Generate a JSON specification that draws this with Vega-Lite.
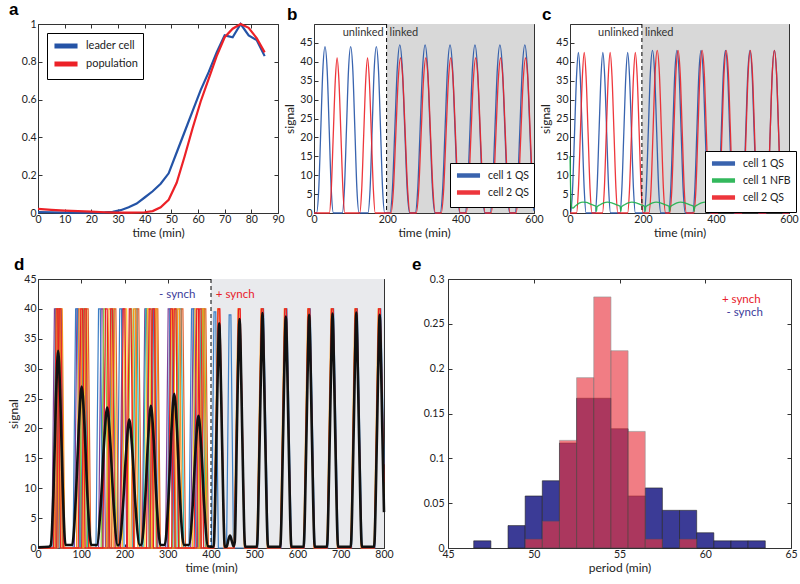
{
"$schema":"https://vega.github.io/schema/vega-lite/v6.json",
"autosize":{"type":"pad"},
"padding":{"left":7,"top":0,"right":0,"bottom":0},
"background":"white",
"config":{
 "view":{"stroke":"#333","strokeWidth":1},
 "font":"Lato",
 "scale":{"continuousPadding":0},
 "axis":{"domain":false,"grid":false,"tickSize":-4,"tickColor":"#333","labelFont":"Lato","labelFontSize":10.5,"labelColor":"#222","titleFont":"Lato","titleFontSize":12,"titleFontWeight":"normal","titleColor":"#222","labelFlush":false,"labelOverlap":false,"titlePadding":3},
 "axisX":{"labelPadding":5},
 "axisY":{"labelPadding":4},
 "legend":{"title":null,"strokeColor":"black","fillColor":"white","padding":5,"symbolType":"M-2.2,0H2.2","symbolSize":110,"symbolOffset":6,"symbolStrokeWidth":4.5,"labelFont":"Lato","labelFontSize":10.5,"labelColor":"#222","rowPadding":-5,"labelOffset":12,"cornerRadius":0},
 "title":{"font":"Liberation Sans","fontSize":17,"fontWeight":"bold","anchor":"start","frame":"group","color":"black"}
},
"datasets":{
"a":[
{"s":"leader cell","t":0,"v":0.005},{"s":"leader cell","t":5,"v":0.004},{"s":"leader cell","t":10,"v":0.002},{"s":"leader cell","t":15,"v":0.002},{"s":"leader cell","t":20,"v":0.002},{"s":"leader cell","t":25,"v":0.003},{"s":"leader cell","t":28,"v":0.006},{"s":"leader cell","t":31,"v":0.015},{"s":"leader cell","t":34,"v":0.03},{"s":"leader cell","t":37,"v":0.05},{"s":"leader cell","t":40,"v":0.082},{"s":"leader cell","t":43,"v":0.115},{"s":"leader cell","t":46,"v":0.155},{"s":"leader cell","t":49,"v":0.21},{"s":"leader cell","t":52,"v":0.32},{"s":"leader cell","t":55,"v":0.43},{"s":"leader cell","t":58,"v":0.54},{"s":"leader cell","t":61,"v":0.65},{"s":"leader cell","t":64,"v":0.745},{"s":"leader cell","t":67,"v":0.85},{"s":"leader cell","t":70,"v":0.94},{"s":"leader cell","t":73,"v":0.93},{"s":"leader cell","t":76,"v":1.0},{"s":"leader cell","t":79,"v":0.94},{"s":"leader cell","t":82,"v":0.915},{"s":"leader cell","t":85,"v":0.83},
{"s":"population","t":0,"v":0.022},{"s":"population","t":5,"v":0.017},{"s":"population","t":10,"v":0.013},{"s":"population","t":15,"v":0.01},{"s":"population","t":20,"v":0.007},{"s":"population","t":25,"v":0.004},{"s":"population","t":30,"v":0.002},{"s":"population","t":35,"v":0.002},{"s":"population","t":40,"v":0.004},{"s":"population","t":43,"v":0.01},{"s":"population","t":46,"v":0.03},{"s":"population","t":49,"v":0.07},{"s":"population","t":52,"v":0.16},{"s":"population","t":55,"v":0.3},{"s":"population","t":58,"v":0.45},{"s":"population","t":61,"v":0.59},{"s":"population","t":64,"v":0.71},{"s":"population","t":67,"v":0.83},{"s":"population","t":70,"v":0.93},{"s":"population","t":73,"v":0.975},{"s":"population","t":76,"v":1.0},{"s":"population","t":79,"v":0.98},{"s":"population","t":82,"v":0.925},{"s":"population","t":85,"v":0.85}
],
"b":[
{"s":"cell 1 QS","t":0,"v":0},{"s":"cell 1 QS","t":7,"v":0},{"s":"cell 1 QS","t":13,"v":6.4},{"s":"cell 1 QS","t":18.5,"v":22},{"s":"cell 1 QS","t":24,"v":37.6},{"s":"cell 1 QS","t":30,"v":44},{"s":"cell 1 QS","t":36,"v":37.6},{"s":"cell 1 QS","t":41.5,"v":22},{"s":"cell 1 QS","t":47,"v":6.4},{"s":"cell 1 QS","t":53,"v":0},
{"s":"cell 1 QS","t":77,"v":0},{"s":"cell 1 QS","t":83,"v":6.4},{"s":"cell 1 QS","t":88.5,"v":22},{"s":"cell 1 QS","t":94,"v":37.6},{"s":"cell 1 QS","t":100,"v":44},{"s":"cell 1 QS","t":106,"v":37.6},{"s":"cell 1 QS","t":111.5,"v":22},{"s":"cell 1 QS","t":117,"v":6.4},{"s":"cell 1 QS","t":123,"v":0},
{"s":"cell 1 QS","t":147,"v":0},{"s":"cell 1 QS","t":153,"v":6.4},{"s":"cell 1 QS","t":158.5,"v":22},{"s":"cell 1 QS","t":164,"v":37.6},{"s":"cell 1 QS","t":170,"v":44},{"s":"cell 1 QS","t":176,"v":37.6},{"s":"cell 1 QS","t":181.5,"v":22},{"s":"cell 1 QS","t":187,"v":6.4},{"s":"cell 1 QS","t":193,"v":0},
{"s":"cell 1 QS","t":207,"v":0},{"s":"cell 1 QS","t":214,"v":6.5},{"s":"cell 1 QS","t":220.5,"v":22.3},{"s":"cell 1 QS","t":227,"v":38},{"s":"cell 1 QS","t":234,"v":44.5},{"s":"cell 1 QS","t":241,"v":38},{"s":"cell 1 QS","t":247.5,"v":22.3},{"s":"cell 1 QS","t":254,"v":6.5},{"s":"cell 1 QS","t":261,"v":0},
{"s":"cell 1 QS","t":276,"v":0},{"s":"cell 1 QS","t":283,"v":6.5},{"s":"cell 1 QS","t":289.5,"v":22.3},{"s":"cell 1 QS","t":296,"v":38},{"s":"cell 1 QS","t":303,"v":44.5},{"s":"cell 1 QS","t":310,"v":38},{"s":"cell 1 QS","t":316.5,"v":22.3},{"s":"cell 1 QS","t":323,"v":6.5},{"s":"cell 1 QS","t":330,"v":0},
{"s":"cell 1 QS","t":344,"v":0},{"s":"cell 1 QS","t":351,"v":6.5},{"s":"cell 1 QS","t":357.5,"v":22.3},{"s":"cell 1 QS","t":364,"v":38},{"s":"cell 1 QS","t":371,"v":44.5},{"s":"cell 1 QS","t":378,"v":38},{"s":"cell 1 QS","t":384.5,"v":22.3},{"s":"cell 1 QS","t":391,"v":6.5},{"s":"cell 1 QS","t":398,"v":0},
{"s":"cell 1 QS","t":412,"v":0},{"s":"cell 1 QS","t":419,"v":6.5},{"s":"cell 1 QS","t":425.5,"v":22.3},{"s":"cell 1 QS","t":432,"v":38},{"s":"cell 1 QS","t":439,"v":44.5},{"s":"cell 1 QS","t":446,"v":38},{"s":"cell 1 QS","t":452.5,"v":22.3},{"s":"cell 1 QS","t":459,"v":6.5},{"s":"cell 1 QS","t":466,"v":0},
{"s":"cell 1 QS","t":480,"v":0},{"s":"cell 1 QS","t":487,"v":6.5},{"s":"cell 1 QS","t":493.5,"v":22.3},{"s":"cell 1 QS","t":500,"v":38},{"s":"cell 1 QS","t":507,"v":44.5},{"s":"cell 1 QS","t":514,"v":38},{"s":"cell 1 QS","t":520.5,"v":22.3},{"s":"cell 1 QS","t":527,"v":6.5},{"s":"cell 1 QS","t":534,"v":0},
{"s":"cell 1 QS","t":548,"v":0},{"s":"cell 1 QS","t":555,"v":6.5},{"s":"cell 1 QS","t":561.5,"v":22.3},{"s":"cell 1 QS","t":568,"v":38},{"s":"cell 1 QS","t":575,"v":44.5},{"s":"cell 1 QS","t":582,"v":38},{"s":"cell 1 QS","t":588.5,"v":22.3},{"s":"cell 1 QS","t":595,"v":6.5},{"s":"cell 1 QS","t":600,"v":0.6},
{"s":"cell 2 QS","t":0,"v":0},{"s":"cell 2 QS","t":42,"v":0},{"s":"cell 2 QS","t":47,"v":6},{"s":"cell 2 QS","t":52.5,"v":20.5},{"s":"cell 2 QS","t":58,"v":35},{"s":"cell 2 QS","t":63,"v":41},{"s":"cell 2 QS","t":68,"v":35},{"s":"cell 2 QS","t":73.5,"v":20.5},{"s":"cell 2 QS","t":79,"v":6},{"s":"cell 2 QS","t":84,"v":0},
{"s":"cell 2 QS","t":125,"v":0},{"s":"cell 2 QS","t":130,"v":6},{"s":"cell 2 QS","t":135.5,"v":20.5},{"s":"cell 2 QS","t":141,"v":35},{"s":"cell 2 QS","t":146,"v":41},{"s":"cell 2 QS","t":151,"v":35},{"s":"cell 2 QS","t":156.5,"v":20.5},{"s":"cell 2 QS","t":162,"v":6},{"s":"cell 2 QS","t":167,"v":0},
{"s":"cell 2 QS","t":210,"v":0},{"s":"cell 2 QS","t":216.5,"v":6},{"s":"cell 2 QS","t":223,"v":20.5},{"s":"cell 2 QS","t":229.5,"v":35},{"s":"cell 2 QS","t":236,"v":41},{"s":"cell 2 QS","t":242.5,"v":35},{"s":"cell 2 QS","t":249,"v":20.5},{"s":"cell 2 QS","t":255.5,"v":6},{"s":"cell 2 QS","t":262,"v":0},
{"s":"cell 2 QS","t":279,"v":0},{"s":"cell 2 QS","t":285.5,"v":6},{"s":"cell 2 QS","t":292,"v":20.5},{"s":"cell 2 QS","t":298.5,"v":35},{"s":"cell 2 QS","t":305,"v":41},{"s":"cell 2 QS","t":311.5,"v":35},{"s":"cell 2 QS","t":318,"v":20.5},{"s":"cell 2 QS","t":324.5,"v":6},{"s":"cell 2 QS","t":331,"v":0},
{"s":"cell 2 QS","t":347,"v":0},{"s":"cell 2 QS","t":353.5,"v":6},{"s":"cell 2 QS","t":360,"v":20.5},{"s":"cell 2 QS","t":366.5,"v":35},{"s":"cell 2 QS","t":373,"v":41},{"s":"cell 2 QS","t":379.5,"v":35},{"s":"cell 2 QS","t":386,"v":20.5},{"s":"cell 2 QS","t":392.5,"v":6},{"s":"cell 2 QS","t":399,"v":0},
{"s":"cell 2 QS","t":415,"v":0},{"s":"cell 2 QS","t":421.5,"v":6},{"s":"cell 2 QS","t":428,"v":20.5},{"s":"cell 2 QS","t":434.5,"v":35},{"s":"cell 2 QS","t":441,"v":41},{"s":"cell 2 QS","t":447.5,"v":35},{"s":"cell 2 QS","t":454,"v":20.5},{"s":"cell 2 QS","t":460.5,"v":6},{"s":"cell 2 QS","t":467,"v":0},
{"s":"cell 2 QS","t":483,"v":0},{"s":"cell 2 QS","t":489.5,"v":6},{"s":"cell 2 QS","t":496,"v":20.5},{"s":"cell 2 QS","t":502.5,"v":35},{"s":"cell 2 QS","t":509,"v":41},{"s":"cell 2 QS","t":515.5,"v":35},{"s":"cell 2 QS","t":522,"v":20.5},{"s":"cell 2 QS","t":528.5,"v":6},{"s":"cell 2 QS","t":535,"v":0},
{"s":"cell 2 QS","t":551,"v":0},{"s":"cell 2 QS","t":557.5,"v":6},{"s":"cell 2 QS","t":564,"v":20.5},{"s":"cell 2 QS","t":570.5,"v":35},{"s":"cell 2 QS","t":577,"v":41},{"s":"cell 2 QS","t":583.5,"v":35},{"s":"cell 2 QS","t":590,"v":20.5},{"s":"cell 2 QS","t":596.5,"v":6},{"s":"cell 2 QS","t":600,"v":1.5}
],
"c":[
{"s":"cell 1 QS","t":0,"v":0},{"s":"cell 1 QS","t":2,"v":0},{"s":"cell 1 QS","t":7,"v":6.2},{"s":"cell 1 QS","t":12.5,"v":21.3},{"s":"cell 1 QS","t":18,"v":36.3},{"s":"cell 1 QS","t":23,"v":42.5},{"s":"cell 1 QS","t":28,"v":36.3},{"s":"cell 1 QS","t":33.5,"v":21.3},{"s":"cell 1 QS","t":39,"v":6.2},{"s":"cell 1 QS","t":44,"v":0},
{"s":"cell 1 QS","t":69,"v":0},{"s":"cell 1 QS","t":74,"v":6.2},{"s":"cell 1 QS","t":79.5,"v":21.3},{"s":"cell 1 QS","t":85,"v":36.3},{"s":"cell 1 QS","t":90,"v":42.5},{"s":"cell 1 QS","t":95,"v":36.3},{"s":"cell 1 QS","t":100.5,"v":21.3},{"s":"cell 1 QS","t":106,"v":6.2},{"s":"cell 1 QS","t":111,"v":0},
{"s":"cell 1 QS","t":137,"v":0},{"s":"cell 1 QS","t":142,"v":6.2},{"s":"cell 1 QS","t":147.5,"v":21.3},{"s":"cell 1 QS","t":153,"v":36.3},{"s":"cell 1 QS","t":158,"v":42.5},{"s":"cell 1 QS","t":163,"v":36.3},{"s":"cell 1 QS","t":168.5,"v":21.3},{"s":"cell 1 QS","t":174,"v":6.2},{"s":"cell 1 QS","t":179,"v":0},
{"s":"cell 1 QS","t":203,"v":0},{"s":"cell 1 QS","t":209,"v":6.3},{"s":"cell 1 QS","t":214.5,"v":21.5},{"s":"cell 1 QS","t":220,"v":36.7},{"s":"cell 1 QS","t":226,"v":43},{"s":"cell 1 QS","t":232,"v":36.7},{"s":"cell 1 QS","t":237.5,"v":21.5},{"s":"cell 1 QS","t":243,"v":6.3},{"s":"cell 1 QS","t":249,"v":0},
{"s":"cell 1 QS","t":270,"v":0},{"s":"cell 1 QS","t":276,"v":6.3},{"s":"cell 1 QS","t":281.5,"v":21.5},{"s":"cell 1 QS","t":287,"v":36.7},{"s":"cell 1 QS","t":293,"v":43},{"s":"cell 1 QS","t":299,"v":36.7},{"s":"cell 1 QS","t":304.5,"v":21.5},{"s":"cell 1 QS","t":310,"v":6.3},{"s":"cell 1 QS","t":316,"v":0},
{"s":"cell 1 QS","t":336,"v":0},{"s":"cell 1 QS","t":342,"v":6.3},{"s":"cell 1 QS","t":347.5,"v":21.5},{"s":"cell 1 QS","t":353,"v":36.7},{"s":"cell 1 QS","t":359,"v":43},{"s":"cell 1 QS","t":365,"v":36.7},{"s":"cell 1 QS","t":370.5,"v":21.5},{"s":"cell 1 QS","t":376,"v":6.3},{"s":"cell 1 QS","t":382,"v":0},
{"s":"cell 1 QS","t":403,"v":0},{"s":"cell 1 QS","t":409,"v":6.3},{"s":"cell 1 QS","t":414.5,"v":21.5},{"s":"cell 1 QS","t":420,"v":36.7},{"s":"cell 1 QS","t":426,"v":43},{"s":"cell 1 QS","t":432,"v":36.7},{"s":"cell 1 QS","t":437.5,"v":21.5},{"s":"cell 1 QS","t":443,"v":6.3},{"s":"cell 1 QS","t":449,"v":0},
{"s":"cell 1 QS","t":470,"v":0},{"s":"cell 1 QS","t":476,"v":6.3},{"s":"cell 1 QS","t":481.5,"v":21.5},{"s":"cell 1 QS","t":487,"v":36.7},{"s":"cell 1 QS","t":493,"v":43},{"s":"cell 1 QS","t":499,"v":36.7},{"s":"cell 1 QS","t":504.5,"v":21.5},{"s":"cell 1 QS","t":510,"v":6.3},{"s":"cell 1 QS","t":516,"v":0},
{"s":"cell 1 QS","t":537,"v":0},{"s":"cell 1 QS","t":543,"v":6.3},{"s":"cell 1 QS","t":548.5,"v":21.5},{"s":"cell 1 QS","t":554,"v":36.7},{"s":"cell 1 QS","t":560,"v":43},{"s":"cell 1 QS","t":566,"v":36.7},{"s":"cell 1 QS","t":571.5,"v":21.5},{"s":"cell 1 QS","t":577,"v":6.3},{"s":"cell 1 QS","t":583,"v":0},{"s":"cell 1 QS","t":600,"v":0},
{"s":"cell 2 QS","t":0,"v":0},{"s":"cell 2 QS","t":18,"v":0},{"s":"cell 2 QS","t":23,"v":6.2},{"s":"cell 2 QS","t":28.5,"v":21.3},{"s":"cell 2 QS","t":34,"v":36.3},{"s":"cell 2 QS","t":39,"v":42.5},{"s":"cell 2 QS","t":44,"v":36.3},{"s":"cell 2 QS","t":49.5,"v":21.3},{"s":"cell 2 QS","t":55,"v":6.2},{"s":"cell 2 QS","t":60,"v":0},
{"s":"cell 2 QS","t":89,"v":0},{"s":"cell 2 QS","t":94,"v":6.2},{"s":"cell 2 QS","t":99.5,"v":21.3},{"s":"cell 2 QS","t":105,"v":36.3},{"s":"cell 2 QS","t":110,"v":42.5},{"s":"cell 2 QS","t":115,"v":36.3},{"s":"cell 2 QS","t":120.5,"v":21.3},{"s":"cell 2 QS","t":126,"v":6.2},{"s":"cell 2 QS","t":131,"v":0},
{"s":"cell 2 QS","t":158,"v":0},{"s":"cell 2 QS","t":163,"v":6.2},{"s":"cell 2 QS","t":168.5,"v":21.3},{"s":"cell 2 QS","t":174,"v":36.3},{"s":"cell 2 QS","t":179,"v":42.5},{"s":"cell 2 QS","t":184,"v":36.3},{"s":"cell 2 QS","t":189.5,"v":21.3},{"s":"cell 2 QS","t":195,"v":6.2},{"s":"cell 2 QS","t":200,"v":0},
{"s":"cell 2 QS","t":216,"v":0},{"s":"cell 2 QS","t":222,"v":6.3},{"s":"cell 2 QS","t":227.5,"v":21.5},{"s":"cell 2 QS","t":233,"v":36.7},{"s":"cell 2 QS","t":239,"v":43},{"s":"cell 2 QS","t":245,"v":36.7},{"s":"cell 2 QS","t":250.5,"v":21.5},{"s":"cell 2 QS","t":256,"v":6.3},{"s":"cell 2 QS","t":262,"v":0},
{"s":"cell 2 QS","t":273,"v":0},{"s":"cell 2 QS","t":279,"v":6.3},{"s":"cell 2 QS","t":284.5,"v":21.5},{"s":"cell 2 QS","t":290,"v":36.7},{"s":"cell 2 QS","t":296,"v":43},{"s":"cell 2 QS","t":302,"v":36.7},{"s":"cell 2 QS","t":307.5,"v":21.5},{"s":"cell 2 QS","t":313,"v":6.3},{"s":"cell 2 QS","t":319,"v":0},
{"s":"cell 2 QS","t":339,"v":0},{"s":"cell 2 QS","t":345,"v":6.3},{"s":"cell 2 QS","t":350.5,"v":21.5},{"s":"cell 2 QS","t":356,"v":36.7},{"s":"cell 2 QS","t":362,"v":43},{"s":"cell 2 QS","t":368,"v":36.7},{"s":"cell 2 QS","t":373.5,"v":21.5},{"s":"cell 2 QS","t":379,"v":6.3},{"s":"cell 2 QS","t":385,"v":0},
{"s":"cell 2 QS","t":405,"v":0},{"s":"cell 2 QS","t":411,"v":6.3},{"s":"cell 2 QS","t":416.5,"v":21.5},{"s":"cell 2 QS","t":422,"v":36.7},{"s":"cell 2 QS","t":428,"v":43},{"s":"cell 2 QS","t":434,"v":36.7},{"s":"cell 2 QS","t":439.5,"v":21.5},{"s":"cell 2 QS","t":445,"v":6.3},{"s":"cell 2 QS","t":451,"v":0},
{"s":"cell 2 QS","t":471,"v":0},{"s":"cell 2 QS","t":477,"v":6.3},{"s":"cell 2 QS","t":482.5,"v":21.5},{"s":"cell 2 QS","t":488,"v":36.7},{"s":"cell 2 QS","t":494,"v":43},{"s":"cell 2 QS","t":500,"v":36.7},{"s":"cell 2 QS","t":505.5,"v":21.5},{"s":"cell 2 QS","t":511,"v":6.3},{"s":"cell 2 QS","t":517,"v":0},
{"s":"cell 2 QS","t":537,"v":0},{"s":"cell 2 QS","t":543,"v":6.3},{"s":"cell 2 QS","t":548.5,"v":21.5},{"s":"cell 2 QS","t":554,"v":36.7},{"s":"cell 2 QS","t":560,"v":43},{"s":"cell 2 QS","t":566,"v":36.7},{"s":"cell 2 QS","t":571.5,"v":21.5},{"s":"cell 2 QS","t":577,"v":6.3},{"s":"cell 2 QS","t":583,"v":0},{"s":"cell 2 QS","t":600,"v":0},
{"s":"cell 1 NFB","t":0,"v":15},{"s":"cell 1 NFB","t":1.5,"v":7},{"s":"cell 1 NFB","t":3,"v":3},{"s":"cell 1 NFB","t":5,"v":1.5},{"s":"cell 1 NFB","t":8,"v":1.3},{"s":"cell 1 NFB","t":15,"v":1.9},{"s":"cell 1 NFB","t":25,"v":2.6},{"s":"cell 1 NFB","t":35,"v":2.9},{"s":"cell 1 NFB","t":45,"v":2.8},{"s":"cell 1 NFB","t":55,"v":2.4},{"s":"cell 1 NFB","t":65,"v":2.0},{"s":"cell 1 NFB","t":71,"v":1.8},{"s":"cell 1 NFB","t":72.5,"v":0.4},
{"s":"cell 1 NFB","t":74,"v":1.6},{"s":"cell 1 NFB","t":82.5,"v":2.2},{"s":"cell 1 NFB","t":92.5,"v":2.7},{"s":"cell 1 NFB","t":102.5,"v":2.9},{"s":"cell 1 NFB","t":114.5,"v":2.7},{"s":"cell 1 NFB","t":126.5,"v":2.2},{"s":"cell 1 NFB","t":137,"v":1.8},{"s":"cell 1 NFB","t":139.5,"v":0.4},
{"s":"cell 1 NFB","t":141,"v":1.6},{"s":"cell 1 NFB","t":149.5,"v":2.2},{"s":"cell 1 NFB","t":159.5,"v":2.7},{"s":"cell 1 NFB","t":169.5,"v":2.9},{"s":"cell 1 NFB","t":181.5,"v":2.7},{"s":"cell 1 NFB","t":193.5,"v":2.2},{"s":"cell 1 NFB","t":204,"v":1.8},{"s":"cell 1 NFB","t":206,"v":0.4},
{"s":"cell 1 NFB","t":207.5,"v":1.6},{"s":"cell 1 NFB","t":216,"v":2.2},{"s":"cell 1 NFB","t":226,"v":2.7},{"s":"cell 1 NFB","t":236,"v":2.9},{"s":"cell 1 NFB","t":248,"v":2.7},{"s":"cell 1 NFB","t":260,"v":2.2},{"s":"cell 1 NFB","t":271,"v":1.8},{"s":"cell 1 NFB","t":273,"v":0.4},
{"s":"cell 1 NFB","t":274.5,"v":1.6},{"s":"cell 1 NFB","t":283,"v":2.2},{"s":"cell 1 NFB","t":293,"v":2.7},{"s":"cell 1 NFB","t":303,"v":2.9},{"s":"cell 1 NFB","t":315,"v":2.7},{"s":"cell 1 NFB","t":327,"v":2.2},{"s":"cell 1 NFB","t":338,"v":1.8},{"s":"cell 1 NFB","t":340,"v":0.4},
{"s":"cell 1 NFB","t":341.5,"v":1.6},{"s":"cell 1 NFB","t":350,"v":2.2},{"s":"cell 1 NFB","t":360,"v":2.7},{"s":"cell 1 NFB","t":370,"v":2.9},{"s":"cell 1 NFB","t":382,"v":2.7},{"s":"cell 1 NFB","t":394,"v":2.2},{"s":"cell 1 NFB","t":404,"v":1.8},{"s":"cell 1 NFB","t":406,"v":0.4},
{"s":"cell 1 NFB","t":407.5,"v":1.6},{"s":"cell 1 NFB","t":416,"v":2.2},{"s":"cell 1 NFB","t":426,"v":2.7},{"s":"cell 1 NFB","t":436,"v":2.9},{"s":"cell 1 NFB","t":448,"v":2.7},{"s":"cell 1 NFB","t":460,"v":2.2},{"s":"cell 1 NFB","t":471,"v":1.8},{"s":"cell 1 NFB","t":473,"v":0.4},
{"s":"cell 1 NFB","t":474.5,"v":1.6},{"s":"cell 1 NFB","t":483,"v":2.2},{"s":"cell 1 NFB","t":493,"v":2.7},{"s":"cell 1 NFB","t":503,"v":2.9},{"s":"cell 1 NFB","t":515,"v":2.7},{"s":"cell 1 NFB","t":527,"v":2.2},{"s":"cell 1 NFB","t":538,"v":1.8},{"s":"cell 1 NFB","t":540,"v":0.4},
{"s":"cell 1 NFB","t":541.5,"v":1.6},{"s":"cell 1 NFB","t":550,"v":2.2},{"s":"cell 1 NFB","t":560,"v":2.7},{"s":"cell 1 NFB","t":570,"v":2.9},{"s":"cell 1 NFB","t":582,"v":2.7},{"s":"cell 1 NFB","t":594,"v":2.2},{"s":"cell 1 NFB","t":600,"v":2.0}
],
"d":[
{"s":"t6","t":0,"v":0},{"s":"t6","t":32,"v":0},{"s":"t6","t":38,"v":40},{"s":"t6","t":42,"v":40},{"s":"t6","t":48,"v":0},{"s":"t6","t":84,"v":0},{"s":"t6","t":90,"v":40},{"s":"t6","t":94,"v":40},{"s":"t6","t":100,"v":0},{"s":"t6","t":140,"v":0},{"s":"t6","t":146,"v":40},{"s":"t6","t":150,"v":40},{"s":"t6","t":156,"v":0},{"s":"t6","t":189,"v":0},{"s":"t6","t":195,"v":40},{"s":"t6","t":199,"v":40},{"s":"t6","t":205,"v":0},{"s":"t6","t":241,"v":0},{"s":"t6","t":247,"v":40},{"s":"t6","t":251,"v":40},{"s":"t6","t":257,"v":0},{"s":"t6","t":295,"v":0},{"s":"t6","t":301,"v":40},{"s":"t6","t":305,"v":40},{"s":"t6","t":311,"v":0},{"s":"t6","t":353,"v":0},{"s":"t6","t":359,"v":40},{"s":"t6","t":363,"v":40},{"s":"t6","t":369,"v":0},{"s":"t6","t":400,"v":0},
{"s":"t2","t":0,"v":0},{"s":"t2","t":35,"v":0},{"s":"t2","t":41,"v":40},{"s":"t2","t":45,"v":40},{"s":"t2","t":51,"v":0},{"s":"t2","t":99,"v":0},{"s":"t2","t":105,"v":40},{"s":"t2","t":109,"v":40},{"s":"t2","t":115,"v":0},{"s":"t2","t":164,"v":0},{"s":"t2","t":170,"v":40},{"s":"t2","t":174,"v":40},{"s":"t2","t":180,"v":0},{"s":"t2","t":219,"v":0},{"s":"t2","t":225,"v":40},{"s":"t2","t":229,"v":40},{"s":"t2","t":235,"v":0},{"s":"t2","t":243,"v":0},{"s":"t2","t":249,"v":40},{"s":"t2","t":253,"v":40},{"s":"t2","t":259,"v":0},{"s":"t2","t":321,"v":0},{"s":"t2","t":327,"v":40},{"s":"t2","t":331,"v":40},{"s":"t2","t":337,"v":0},{"s":"t2","t":371,"v":0},{"s":"t2","t":377,"v":40},{"s":"t2","t":381,"v":40},{"s":"t2","t":387,"v":0},{"s":"t2","t":400,"v":0},
{"s":"t3","t":0,"v":0},{"s":"t3","t":41,"v":0},{"s":"t3","t":47,"v":40},{"s":"t3","t":51,"v":40},{"s":"t3","t":57,"v":0},{"s":"t3","t":96,"v":0},{"s":"t3","t":102,"v":40},{"s":"t3","t":106,"v":40},{"s":"t3","t":112,"v":0},{"s":"t3","t":146,"v":0},{"s":"t3","t":152,"v":40},{"s":"t3","t":156,"v":40},{"s":"t3","t":162,"v":0},{"s":"t3","t":207,"v":0},{"s":"t3","t":213,"v":40},{"s":"t3","t":217,"v":40},{"s":"t3","t":223,"v":0},{"s":"t3","t":257,"v":0},{"s":"t3","t":263,"v":40},{"s":"t3","t":267,"v":40},{"s":"t3","t":273,"v":0},{"s":"t3","t":311,"v":0},{"s":"t3","t":317,"v":40},{"s":"t3","t":321,"v":40},{"s":"t3","t":327,"v":0},{"s":"t3","t":375,"v":0},{"s":"t3","t":381,"v":40},{"s":"t3","t":385,"v":40},{"s":"t3","t":391,"v":0},{"s":"t3","t":400,"v":0},
{"s":"t1","t":0,"v":0},{"s":"t1","t":44,"v":0},{"s":"t1","t":50,"v":40},{"s":"t1","t":54,"v":40},{"s":"t1","t":60,"v":0},{"s":"t1","t":81,"v":0},{"s":"t1","t":87,"v":40},{"s":"t1","t":91,"v":40},{"s":"t1","t":97,"v":0},{"s":"t1","t":134,"v":0},{"s":"t1","t":140,"v":40},{"s":"t1","t":144,"v":40},{"s":"t1","t":150,"v":0},{"s":"t1","t":183,"v":0},{"s":"t1","t":189,"v":40},{"s":"t1","t":193,"v":40},{"s":"t1","t":199,"v":0},{"s":"t1","t":261,"v":0},{"s":"t1","t":267,"v":40},{"s":"t1","t":271,"v":40},{"s":"t1","t":277,"v":0},{"s":"t1","t":299,"v":0},{"s":"t1","t":305,"v":40},{"s":"t1","t":309,"v":40},{"s":"t1","t":315,"v":0},{"s":"t1","t":349,"v":0},{"s":"t1","t":355,"v":40},{"s":"t1","t":359,"v":40},{"s":"t1","t":365,"v":0},
{"s":"t1","t":401,"v":0},{"s":"t1","t":407,"v":39.5},{"s":"t1","t":411,"v":39.5},{"s":"t1","t":417,"v":0},{"s":"t1","t":436,"v":0},{"s":"t1","t":442,"v":39},{"s":"t1","t":446,"v":39},{"s":"t1","t":452,"v":0},{"s":"t1","t":508,"v":0},{"s":"t1","t":517.5,"v":40},{"s":"t1","t":521.5,"v":40},{"s":"t1","t":532,"v":0},{"s":"t1","t":562,"v":0},{"s":"t1","t":571.5,"v":40},{"s":"t1","t":575.5,"v":40},{"s":"t1","t":586,"v":0},{"s":"t1","t":616,"v":0},{"s":"t1","t":625.5,"v":40},{"s":"t1","t":629.5,"v":40},{"s":"t1","t":640,"v":0},{"s":"t1","t":670,"v":0},{"s":"t1","t":679.5,"v":40},{"s":"t1","t":683.5,"v":40},{"s":"t1","t":694,"v":0},{"s":"t1","t":725,"v":0},{"s":"t1","t":734.5,"v":40},{"s":"t1","t":738.5,"v":40},{"s":"t1","t":749,"v":0},{"s":"t1","t":779,"v":0},{"s":"t1","t":788.5,"v":40},{"s":"t1","t":792.5,"v":40},{"s":"t1","t":800,"v":14},
{"s":"t4","t":0,"v":0},{"s":"t4","t":37,"v":0},{"s":"t4","t":43,"v":40},{"s":"t4","t":47,"v":40},{"s":"t4","t":53,"v":0},{"s":"t4","t":103,"v":0},{"s":"t4","t":109,"v":40},{"s":"t4","t":113,"v":40},{"s":"t4","t":119,"v":0},{"s":"t4","t":166,"v":0},{"s":"t4","t":172,"v":40},{"s":"t4","t":176,"v":40},{"s":"t4","t":182,"v":0},{"s":"t4","t":195,"v":0},{"s":"t4","t":201,"v":40},{"s":"t4","t":205,"v":40},{"s":"t4","t":211,"v":0},{"s":"t4","t":247,"v":0},{"s":"t4","t":253,"v":40},{"s":"t4","t":257,"v":40},{"s":"t4","t":263,"v":0},{"s":"t4","t":303,"v":0},{"s":"t4","t":309,"v":40},{"s":"t4","t":313,"v":40},{"s":"t4","t":319,"v":0},{"s":"t4","t":357,"v":0},{"s":"t4","t":363,"v":40},{"s":"t4","t":367,"v":40},{"s":"t4","t":373,"v":0},{"s":"t4","t":400,"v":0},
{"s":"t7","t":0,"v":0},{"s":"t7","t":40,"v":0},{"s":"t7","t":46,"v":40},{"s":"t7","t":50,"v":40},{"s":"t7","t":56,"v":0},{"s":"t7","t":106,"v":0},{"s":"t7","t":112,"v":40},{"s":"t7","t":116,"v":40},{"s":"t7","t":122,"v":0},{"s":"t7","t":170,"v":0},{"s":"t7","t":176,"v":40},{"s":"t7","t":180,"v":40},{"s":"t7","t":186,"v":0},{"s":"t7","t":223,"v":0},{"s":"t7","t":229,"v":40},{"s":"t7","t":233,"v":40},{"s":"t7","t":239,"v":0},{"s":"t7","t":267,"v":0},{"s":"t7","t":273,"v":40},{"s":"t7","t":277,"v":40},{"s":"t7","t":283,"v":0},{"s":"t7","t":325,"v":0},{"s":"t7","t":331,"v":40},{"s":"t7","t":335,"v":40},{"s":"t7","t":341,"v":0},{"s":"t7","t":378,"v":0},{"s":"t7","t":384,"v":40},{"s":"t7","t":388,"v":40},{"s":"t7","t":394,"v":0},{"s":"t7","t":400,"v":0},
{"s":"t5","t":0,"v":0},{"s":"t5","t":46,"v":0},{"s":"t5","t":52,"v":40},{"s":"t5","t":56,"v":40},{"s":"t5","t":62,"v":0},{"s":"t5","t":89,"v":0},{"s":"t5","t":95,"v":40},{"s":"t5","t":99,"v":40},{"s":"t5","t":105,"v":0},{"s":"t5","t":158,"v":0},{"s":"t5","t":164,"v":40},{"s":"t5","t":168,"v":40},{"s":"t5","t":174,"v":0},{"s":"t5","t":215,"v":0},{"s":"t5","t":221,"v":40},{"s":"t5","t":225,"v":40},{"s":"t5","t":231,"v":0},{"s":"t5","t":265,"v":0},{"s":"t5","t":271,"v":40},{"s":"t5","t":275,"v":40},{"s":"t5","t":281,"v":0},{"s":"t5","t":317,"v":0},{"s":"t5","t":323,"v":40},{"s":"t5","t":327,"v":40},{"s":"t5","t":333,"v":0},{"s":"t5","t":373,"v":0},{"s":"t5","t":379,"v":40},{"s":"t5","t":383,"v":40},{"s":"t5","t":389,"v":0},
{"s":"t5","t":406,"v":0},{"s":"t5","t":415.5,"v":40},{"s":"t5","t":419.5,"v":40},{"s":"t5","t":430,"v":0},{"s":"t5","t":453,"v":0},{"s":"t5","t":462.5,"v":40},{"s":"t5","t":466.5,"v":40},{"s":"t5","t":477,"v":0},{"s":"t5","t":506,"v":0},{"s":"t5","t":515.5,"v":40},{"s":"t5","t":519.5,"v":40},{"s":"t5","t":530,"v":0},{"s":"t5","t":560,"v":0},{"s":"t5","t":569.5,"v":40},{"s":"t5","t":573.5,"v":40},{"s":"t5","t":584,"v":0},{"s":"t5","t":614,"v":0},{"s":"t5","t":623.5,"v":40},{"s":"t5","t":627.5,"v":40},{"s":"t5","t":638,"v":0},{"s":"t5","t":668,"v":0},{"s":"t5","t":677.5,"v":40},{"s":"t5","t":681.5,"v":40},{"s":"t5","t":692,"v":0},{"s":"t5","t":723,"v":0},{"s":"t5","t":732.5,"v":40},{"s":"t5","t":736.5,"v":40},{"s":"t5","t":747,"v":0},{"s":"t5","t":777,"v":0},{"s":"t5","t":786.5,"v":40},{"s":"t5","t":790.5,"v":40},{"s":"t5","t":800,"v":9},
{"s":"t9","t":0,"v":0},{"s":"t9","t":43,"v":0},{"s":"t9","t":49,"v":40},{"s":"t9","t":53,"v":40},{"s":"t9","t":59,"v":0},{"s":"t9","t":101,"v":0},{"s":"t9","t":107,"v":40},{"s":"t9","t":111,"v":40},{"s":"t9","t":117,"v":0},{"s":"t9","t":162,"v":0},{"s":"t9","t":168,"v":40},{"s":"t9","t":172,"v":40},{"s":"t9","t":178,"v":0},{"s":"t9","t":191,"v":0},{"s":"t9","t":197,"v":40},{"s":"t9","t":201,"v":40},{"s":"t9","t":207,"v":0},{"s":"t9","t":259,"v":0},{"s":"t9","t":265,"v":40},{"s":"t9","t":269,"v":40},{"s":"t9","t":275,"v":0},{"s":"t9","t":301,"v":0},{"s":"t9","t":307,"v":40},{"s":"t9","t":311,"v":40},{"s":"t9","t":317,"v":0},{"s":"t9","t":367,"v":0},{"s":"t9","t":373,"v":40},{"s":"t9","t":377,"v":40},{"s":"t9","t":383,"v":0},{"s":"t9","t":400,"v":0},
{"s":"t8","t":0,"v":0},{"s":"t8","t":36,"v":0},{"s":"t8","t":42,"v":40},{"s":"t8","t":46,"v":40},{"s":"t8","t":52,"v":0},{"s":"t8","t":93,"v":0},{"s":"t8","t":99,"v":40},{"s":"t8","t":103,"v":40},{"s":"t8","t":109,"v":0},{"s":"t8","t":150,"v":0},{"s":"t8","t":156,"v":40},{"s":"t8","t":160,"v":40},{"s":"t8","t":166,"v":0},{"s":"t8","t":205,"v":0},{"s":"t8","t":211,"v":40},{"s":"t8","t":215,"v":40},{"s":"t8","t":221,"v":0},{"s":"t8","t":251,"v":0},{"s":"t8","t":257,"v":40},{"s":"t8","t":261,"v":40},{"s":"t8","t":267,"v":0},{"s":"t8","t":309,"v":0},{"s":"t8","t":315,"v":40},{"s":"t8","t":319,"v":40},{"s":"t8","t":325,"v":0},{"s":"t8","t":361,"v":0},{"s":"t8","t":367,"v":40},{"s":"t8","t":371,"v":40},{"s":"t8","t":377,"v":0},
{"s":"t8","t":407,"v":0},{"s":"t8","t":416.5,"v":40},{"s":"t8","t":420.5,"v":40},{"s":"t8","t":431,"v":0},{"s":"t8","t":454,"v":0},{"s":"t8","t":463.5,"v":40},{"s":"t8","t":467.5,"v":40},{"s":"t8","t":478,"v":0},{"s":"t8","t":507,"v":0},{"s":"t8","t":516.5,"v":40},{"s":"t8","t":520.5,"v":40},{"s":"t8","t":531,"v":0},{"s":"t8","t":561,"v":0},{"s":"t8","t":570.5,"v":40},{"s":"t8","t":574.5,"v":40},{"s":"t8","t":585,"v":0},{"s":"t8","t":615,"v":0},{"s":"t8","t":624.5,"v":40},{"s":"t8","t":628.5,"v":40},{"s":"t8","t":639,"v":0},{"s":"t8","t":669,"v":0},{"s":"t8","t":678.5,"v":40},{"s":"t8","t":682.5,"v":40},{"s":"t8","t":693,"v":0},{"s":"t8","t":724,"v":0},{"s":"t8","t":733.5,"v":40},{"s":"t8","t":737.5,"v":40},{"s":"t8","t":748,"v":0},{"s":"t8","t":778,"v":0},{"s":"t8","t":787.5,"v":40},{"s":"t8","t":791.5,"v":40},{"s":"t8","t":800,"v":11}
],
"dm":[
{"t":0,"v":0.1},{"t":25,"v":0.2},{"t":29.6,"v":0.5},{"t":36.4,"v":11},{"t":41.5,"v":24.8},{"t":46.6,"v":33},{"t":51.7,"v":24.8},{"t":56.8,"v":11},{"t":63.6,"v":0.5},
{"t":79,"v":0.5},{"t":87.8,"v":8.9},{"t":94.4,"v":20.3},{"t":101,"v":27},{"t":107.6,"v":20.3},{"t":114.2,"v":8.9},{"t":123,"v":0.5},
{"t":136,"v":0.5},{"t":145.6,"v":7.8},{"t":152.8,"v":17.6},{"t":160,"v":23.5},{"t":167.2,"v":17.6},{"t":174.4,"v":7.8},{"t":184,"v":0.5},
{"t":187,"v":0.5},{"t":196.6,"v":7.1},{"t":203.8,"v":16.1},{"t":211,"v":21.5},{"t":218.2,"v":16.1},{"t":225.4,"v":7.1},{"t":235,"v":0.5},
{"t":239,"v":0.5},{"t":247.8,"v":7.9},{"t":254.4,"v":17.9},{"t":261,"v":23.8},{"t":267.6,"v":17.9},{"t":274.2,"v":7.9},{"t":283,"v":0.5},
{"t":293,"v":0.5},{"t":301.8,"v":8.5},{"t":308.4,"v":19.4},{"t":315,"v":25.8},{"t":321.6,"v":19.4},{"t":328.2,"v":8.5},{"t":337,"v":0.5},
{"t":349,"v":0.5},{"t":357.8,"v":7.3},{"t":364.4,"v":16.6},{"t":371,"v":22.1},{"t":377.6,"v":16.6},{"t":384.2,"v":7.3},{"t":393,"v":0.3},
{"t":406,"v":0.2},{"t":413,"v":20},{"t":417,"v":34},{"t":419,"v":37.6},{"t":421,"v":34},{"t":425,"v":20},{"t":432,"v":0.2},
{"t":436,"v":0.2},{"t":440,"v":1.3},{"t":444,"v":2.1},{"t":448,"v":1.2},{"t":452,"v":0.3},
{"t":455,"v":1},{"t":460,"v":20},{"t":464,"v":35},{"t":466,"v":38.3},{"t":468,"v":35},{"t":472,"v":20},{"t":479,"v":0.2},
{"t":506,"v":0.2},{"t":513,"v":20},{"t":517,"v":35},{"t":519,"v":39.3},{"t":521,"v":35},{"t":525,"v":20},{"t":532,"v":0.2},
{"t":560,"v":0.2},{"t":567,"v":20},{"t":571,"v":35},{"t":573,"v":38.7},{"t":575,"v":35},{"t":579,"v":20},{"t":586,"v":0.2},
{"t":614,"v":0.2},{"t":621,"v":20},{"t":625,"v":35},{"t":627,"v":39},{"t":629,"v":35},{"t":633,"v":20},{"t":640,"v":0.2},
{"t":668,"v":0.2},{"t":675,"v":20},{"t":679,"v":35},{"t":681,"v":39.2},{"t":683,"v":35},{"t":687,"v":20},{"t":694,"v":0.2},
{"t":723,"v":0.2},{"t":730,"v":20},{"t":734,"v":35},{"t":736,"v":39.4},{"t":738,"v":35},{"t":742,"v":20},{"t":749,"v":0.2},
{"t":777,"v":0.2},{"t":784,"v":20},{"t":788,"v":35},{"t":790,"v":39},{"t":792,"v":35},{"t":796,"v":20},{"t":800,"v":6}
],
"e":[
{"g":"-","lo":46.5,"hi":47.5,"v":0.008},{"g":"-","lo":48.5,"hi":49.5,"v":0.025},{"g":"-","lo":49.5,"hi":50.5,"v":0.058},{"g":"-","lo":50.5,"hi":51.5,"v":0.075},{"g":"-","lo":51.5,"hi":52.5,"v":0.117},{"g":"-","lo":52.5,"hi":53.5,"v":0.167},{"g":"-","lo":53.5,"hi":54.5,"v":0.167},{"g":"-","lo":54.5,"hi":55.5,"v":0.133},{"g":"-","lo":55.5,"hi":56.5,"v":0.058},{"g":"-","lo":56.5,"hi":57.5,"v":0.067},{"g":"-","lo":57.5,"hi":58.5,"v":0.042},{"g":"-","lo":58.5,"hi":59.5,"v":0.042},{"g":"-","lo":59.5,"hi":60.5,"v":0.017},{"g":"-","lo":60.5,"hi":61.5,"v":0.008},{"g":"-","lo":61.5,"hi":62.5,"v":0.008},{"g":"-","lo":62.5,"hi":63.5,"v":0.008},
{"g":"+","lo":49.5,"hi":50.5,"v":0.01},{"g":"+","lo":50.5,"hi":51.5,"v":0.03},{"g":"+","lo":51.5,"hi":52.5,"v":0.12},{"g":"+","lo":52.5,"hi":53.5,"v":0.19},{"g":"+","lo":53.5,"hi":54.5,"v":0.28},{"g":"+","lo":54.5,"hi":55.5,"v":0.22},{"g":"+","lo":55.5,"hi":56.5,"v":0.13},{"g":"+","lo":56.5,"hi":57.5,"v":0.01},{"g":"+","lo":58.5,"hi":59.5,"v":0.01}
]
},
"spacing":16,
"resolve":{"scale":{"color":"independent"},"legend":{"color":"independent"}},
"vconcat":[
{"spacing":36,"bounds":"flush","resolve":{"scale":{"color":"independent"},"legend":{"color":"independent"}},"hconcat":[
 {"title":{"text":"a","dx":-29,"offset":0},"width":240,"height":189,
  "resolve":{"axis":{"x":"independent","y":"independent"}},
  "layer":[
   {"data":{"name":"a"},"mark":{"type":"line","strokeWidth":2.2},
    "encoding":{
     "x":{"field":"t","type":"quantitative","scale":{"domain":[0,90]},"axis":{"title":"time (min)","values":[0,10,20,30,40,50,60,70,80,90]}},
     "y":{"field":"v","type":"quantitative","scale":{"domain":[0,1]},"axis":{"title":null,"values":[0,0.2,0.4,0.6,0.8,1],"format":"~g","labelPadding":6}},
     "color":{"field":"s","type":"nominal","scale":{"domain":["leader cell","population"],"range":["#2453a6","#ec2127"]},"legend":{"orient":"top-left","offset":9,"labelFontSize":11,"symbolStrokeWidth":5}}}},
   {"data":{"values":[{}]},"mark":{"type":"point","opacity":0},
    "encoding":{
     "x":{"datum":0,"type":"quantitative","scale":{"domain":[0,90]},"axis":{"orient":"top","labels":false,"title":null,"values":[0,10,20,30,40,50,60,70,80,90]}},
     "y":{"datum":0,"type":"quantitative","scale":{"domain":[0,1]},"axis":{"orient":"right","labels":false,"title":null,"values":[0,0.2,0.4,0.6,0.8,1]}}}}
  ]},
 {"title":{"text":"b","dx":-27,"offset":0},"width":220,"height":189,
  "resolve":{"axis":{"x":"independent","y":"independent"}},
  "layer":[
   {"data":{"values":[{}]},"mark":{"type":"rect","color":"#d8d8d8"},
    "encoding":{
     "x":{"datum":198,"type":"quantitative","scale":{"domain":[0,600]},"axis":{"orient":"top","labels":false,"title":null,"values":[0,200,400,600]}},
     "x2":{"datum":600},
     "y":{"datum":0,"type":"quantitative","scale":{"domain":[0,50]},"axis":{"orient":"right","labels":false,"title":null,"values":[0,5,10,15,20,25,30,35,40,45]}},
     "y2":{"datum":50}}},
   {"data":{"name":"b"},"mark":{"type":"line","strokeWidth":1.3,"interpolate":"monotone","opacity":0.9},
    "encoding":{
     "x":{"field":"t","type":"quantitative","scale":{"domain":[0,600]},"axis":{"title":"time (min)","values":[0,200,400,600]}},
     "y":{"field":"v","type":"quantitative","scale":{"domain":[0,50]},"axis":{"title":"signal","values":[0,5,10,15,20,25,30,35,40,45],"labelPadding":6}},
     "color":{"field":"s","type":"nominal","scale":{"domain":["cell 1 QS","cell 2 QS"],"range":["#2453a6","#ec2127"]},"legend":{"orient":"none","legendX":136,"legendY":139}}}},
   {"data":{"values":[{}]},"mark":{"type":"rule","strokeDash":[4,3],"color":"black","strokeWidth":1},
    "encoding":{"x":{"datum":198,"type":"quantitative","axis":null}}},
   {"data":{"values":[{}]},"mark":{"type":"text","text":"unlinked","align":"right","baseline":"middle","fontSize":11,"color":"#333","dx":-3},
    "encoding":{"x":{"datum":198,"type":"quantitative","axis":null},"y":{"datum":47.5,"type":"quantitative","axis":null}}},
   {"data":{"values":[{}]},"mark":{"type":"text","text":"linked","align":"left","baseline":"middle","fontSize":11,"color":"#333","dx":3},
    "encoding":{"x":{"datum":198,"type":"quantitative","axis":null},"y":{"datum":47.5,"type":"quantitative","axis":null}}}
  ]},
 {"title":{"text":"c","dx":-28,"offset":0},"width":219,"height":189,
  "resolve":{"axis":{"x":"independent","y":"independent"}},
  "layer":[
   {"data":{"values":[{}]},"mark":{"type":"rect","color":"#d8d8d8"},
    "encoding":{
     "x":{"datum":197,"type":"quantitative","scale":{"domain":[0,600]},"axis":{"orient":"top","labels":false,"title":null,"values":[0,200,400,600]}},
     "x2":{"datum":600},
     "y":{"datum":0,"type":"quantitative","scale":{"domain":[0,50]},"axis":{"orient":"right","labels":false,"title":null,"values":[0,5,10,15,20,25,30,35,40,45]}},
     "y2":{"datum":50}}},
   {"data":{"name":"c"},"mark":{"type":"line","strokeWidth":1.3,"interpolate":"monotone","opacity":0.9},
    "encoding":{
     "x":{"field":"t","type":"quantitative","scale":{"domain":[0,600]},"axis":{"title":"time (min)","values":[0,200,400,600]}},
     "y":{"field":"v","type":"quantitative","scale":{"domain":[0,50]},"axis":{"title":"signal","values":[0,5,10,15,20,25,30,35,40,45],"labelPadding":6}},
     "color":{"field":"s","type":"nominal","scale":{"domain":["cell 1 QS","cell 1 NFB","cell 2 QS"],"range":["#2453a6","#1db14b","#ec2127"]},"legend":{"orient":"none","legendX":135,"legendY":127}}}},
   {"data":{"values":[{}]},"mark":{"type":"rule","strokeDash":[4,3],"color":"black","strokeWidth":1},
    "encoding":{"x":{"datum":197,"type":"quantitative","axis":null}}},
   {"data":{"values":[{}]},"mark":{"type":"text","text":"unlinked","align":"right","baseline":"middle","fontSize":11,"color":"#333","dx":-3},
    "encoding":{"x":{"datum":197,"type":"quantitative","axis":null},"y":{"datum":47.5,"type":"quantitative","axis":null}}},
   {"data":{"values":[{}]},"mark":{"type":"text","text":"linked","align":"left","baseline":"middle","fontSize":11,"color":"#333","dx":3},
    "encoding":{"x":{"datum":197,"type":"quantitative","axis":null},"y":{"datum":47.5,"type":"quantitative","axis":null}}}
  ]}
]},
{"spacing":64,"bounds":"flush","resolve":{"scale":{"color":"independent"},"legend":{"color":"independent"}},"hconcat":[
 {"title":{"text":"d","dx":-24,"offset":0},"width":346,"height":269,
  "resolve":{"axis":{"x":"independent","y":"independent"}},
  "layer":[
   {"data":{"values":[{}]},"mark":{"type":"rect","color":"#e9eaed"},
    "encoding":{
     "x":{"datum":400,"type":"quantitative","scale":{"domain":[0,800]},"axis":{"orient":"top","labels":false,"title":null,"values":[0,100,200,300,400,500,600,700,800]}},
     "x2":{"datum":800},
     "y":{"datum":0,"type":"quantitative","scale":{"domain":[0,45]},"axis":{"orient":"right","labels":false,"title":null,"values":[0,5,10,15,20,25,30,35,40,45]}},
     "y2":{"datum":45}}},
   {"data":{"name":"d"},"mark":{"type":"line","strokeWidth":1.2},
    "encoding":{
     "x":{"field":"t","type":"quantitative","scale":{"domain":[0,800]},"axis":{"title":"time (min)","values":[0,100,200,300,400,500,600,700,800]}},
     "y":{"field":"v","type":"quantitative","scale":{"domain":[0,45]},"axis":{"title":"signal","values":[0,5,10,15,20,25,30,35,40,45],"labelPadding":6}},
     "color":{"field":"s","type":"nominal","scale":{"domain":["t6","t2","t3","t1","t4","t7","t5","t9","t8"],"range":["#7e3f98","#2ab3b0","#8cc63f","#3b7dc4","#f2c72e","#e0602b","#f7941d","#e8262a","#ec1c24"]},"legend":null}}},
   {"data":{"name":"dm"},"mark":{"type":"line","strokeWidth":2.6,"color":"#111","interpolate":"monotone"},
    "encoding":{"x":{"field":"t","type":"quantitative","axis":null},"y":{"field":"v","type":"quantitative","axis":null}}},
   {"data":{"values":[{}]},"mark":{"type":"rule","strokeDash":[4,3],"color":"black","strokeWidth":1},
    "encoding":{"x":{"datum":400,"type":"quantitative","axis":null}}},
   {"data":{"values":[{}]},"mark":{"type":"text","text":"- synch","align":"center","baseline":"middle","fontSize":11.5,"color":"#3b3b9b"},
    "encoding":{"x":{"datum":322,"type":"quantitative","axis":null},"y":{"datum":42.3,"type":"quantitative","axis":null}}},
   {"data":{"values":[{}]},"mark":{"type":"text","text":"+ synch","align":"center","baseline":"middle","fontSize":11.5,"color":"#e8202a"},
    "encoding":{"x":{"datum":456,"type":"quantitative","axis":null},"y":{"datum":42.3,"type":"quantitative","axis":null}}}
  ]},
 {"title":{"text":"e","dx":-36,"offset":0},"width":343,"height":269,
  "resolve":{"axis":{"x":"independent","y":"independent"}},
  "layer":[
   {"data":{"name":"e"},"transform":[{"filter":"datum.g == '-'"}],"mark":{"type":"bar","color":"#3b3b96","stroke":"#222","strokeWidth":0.6},
    "encoding":{
     "x":{"field":"lo","type":"quantitative","scale":{"domain":[45,65],"padding":0,"nice":false,"zero":false},"axis":{"title":"period (min)","values":[45,50,55,60,65]}},
     "x2":{"field":"hi"},
     "y":{"field":"v","type":"quantitative","scale":{"domain":[0,0.3],"padding":0,"nice":false},"axis":{"title":null,"values":[0,0.05,0.1,0.15,0.2,0.25,0.3],"format":"~g","labelPadding":8}},
     "y2":{"datum":0}}},
   {"data":{"name":"e"},"transform":[{"filter":"datum.g == '+'"}],"mark":{"type":"bar","color":"#ea3540","opacity":0.64,"stroke":"#555","strokeWidth":0.6},
    "encoding":{
     "x":{"field":"lo","type":"quantitative","axis":null},
     "x2":{"field":"hi"},
     "y":{"field":"v","type":"quantitative","axis":null},
     "y2":{"datum":0}}},
   {"data":{"values":[{}]},"mark":{"type":"text","text":"+ synch","align":"center","baseline":"middle","fontSize":11.5,"color":"#e8202a"},
    "encoding":{"x":{"datum":62.1,"type":"quantitative","axis":{"orient":"top","labels":false,"title":null,"values":[45,50,55,60,65]}},"y":{"datum":0.277,"type":"quantitative","axis":{"orient":"right","labels":false,"title":null,"values":[0,0.05,0.1,0.15,0.2,0.25,0.3]}}}},
   {"data":{"values":[{}]},"mark":{"type":"text","text":"- synch","align":"center","baseline":"middle","fontSize":11.5,"color":"#3b3b9b"},
    "encoding":{"x":{"datum":62.3,"type":"quantitative","axis":null},"y":{"datum":0.262,"type":"quantitative","axis":null}}}
  ]}
]}
]
}
